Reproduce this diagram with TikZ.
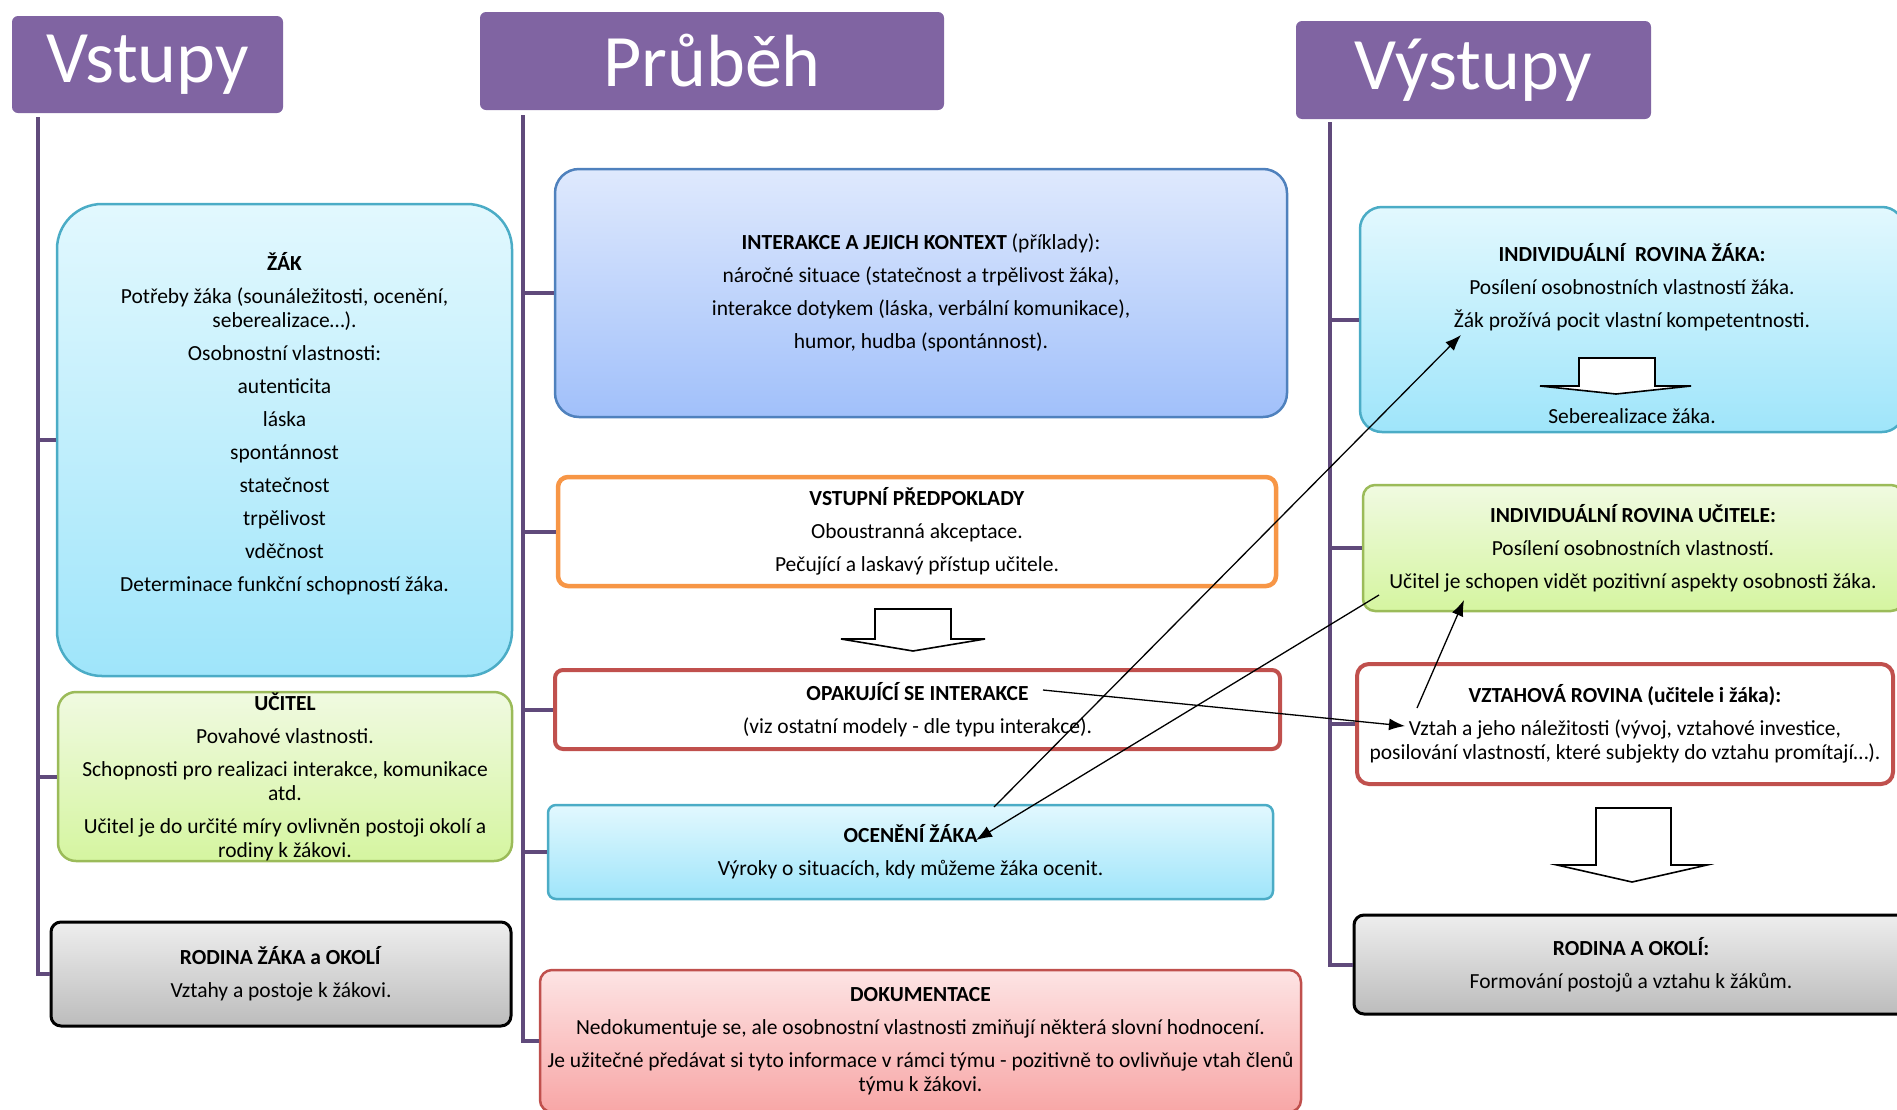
\documentclass[tikz,border=0pt]{standalone}
\usepackage{fontspec}
\setmainfont{Carlito}
\usetikzlibrary{arrows.meta}

\definecolor{hdpurple}{HTML}{8064A2}
\definecolor{trunkpurple}{HTML}{604A7B}
\definecolor{cyanline}{HTML}{4BACC6}
\definecolor{cyantop}{HTML}{E2F8FE}
\definecolor{cyanbot}{HTML}{9FE5FA}
\definecolor{greenline}{HTML}{9BBB59}
\definecolor{greentop}{HTML}{F0FAE1}
\definecolor{greenbot}{HTML}{D5F5A0}
\definecolor{blueline}{HTML}{4F81BD}
\definecolor{bluetop}{HTML}{DFE9FD}
\definecolor{bluebot}{HTML}{A1C0FA}
\definecolor{graytop}{HTML}{EEEEEE}
\definecolor{graybot}{HTML}{BCBCBC}
\definecolor{pinkline}{HTML}{C0504D}
\definecolor{pinktop}{HTML}{FDE4E4}
\definecolor{pinkbot}{HTML}{F8A6A6}
\definecolor{orangeline}{HTML}{F79646}
\definecolor{redline}{HTML}{C0504D}

\tikzset{
  titlebox/.style={fill=hdpurple, rounded corners=6pt, text=white, inner sep=0pt,
    font=\fontsize{74}{74}\selectfont},
  trunk/.style={draw=trunkpurple, line width=4pt},
  txt/.style={align=center, inner sep=0pt, font=\fontsize{21.5}{24}\selectfont},
  card/.style={txt, draw, line width=2.5pt},
  cyanbox/.style={card, draw=cyanline, top color=cyantop, bottom color=cyanbot},
  greenbox/.style={card, draw=greenline, top color=greentop, bottom color=greenbot},
  bluebox/.style={card, draw=blueline, top color=bluetop, bottom color=bluebot},
  graybox/.style={card, draw=black, line width=3pt, top color=graytop, bottom color=graybot},
  pinkbox/.style={card, draw=pinkline, top color=pinktop, bottom color=pinkbot},
  orangebox/.style={card, draw=orangeline, line width=4.5pt, fill=white},
  redbox/.style={card, draw=redline, line width=4pt, fill=white},
  conn/.style={-{Latex[length=16pt,width=12pt]}, line width=1.3pt},
  blockarrow/.style={draw, fill=white, line width=1.6pt, line join=miter},
}

\begin{document}
\begin{tikzpicture}[x=1pt, y=-1pt]
\useasboundingbox (0,0) rectangle (1897,1109);

% column titles
\node[titlebox, minimum width=271pt, minimum height=97pt] (vstupy) at (147.5,64.5) {Vstupy};
\node[titlebox, minimum width=464pt, minimum height=98pt] (prubeh) at (712,61) {Průběh};
\node[titlebox, minimum width=355pt, minimum height=98pt] (vystupy) at (1473.5,70) {Výstupy};

% left column
\node[cyanbox, rounded corners=45pt, minimum width=455pt, minimum height=472pt] (zak) at (284.5,440) {};
\node[txt] (zak-t) at (284.5,424) {\textbf{ŽÁK}\\[9pt]
  Potřeby žáka (sounáležitosti, ocenění,\\ seberealizace…).\\[9pt]
  Osobnostní vlastnosti:\\[9pt]
  autenticita\\[9pt]
  láska\\[9pt]
  spontánnost\\[9pt]
  statečnost\\[9pt]
  trpělivost\\[9pt]
  vděčnost\\[9pt]
  Determinace funkční schopností žáka.};
\node[greenbox, rounded corners=18pt, minimum width=454pt, minimum height=169pt] (ucitel) at (285,776.5) {\textbf{UČITEL}\\[9pt]
  Povahové vlastnosti.\\[9pt]
  Schopnosti pro realizaci interakce, komunikace\\ atd.\\[9pt]
  Učitel je do určité míry ovlivněn postoji okolí a\\ rodiny k žákovi.};
\node[graybox, rounded corners=10pt, minimum width=460pt, minimum height=104pt] (rodinaz) at (281,974) {\textbf{RODINA ŽÁKA a OKOLÍ}\\[9pt]
  Vztahy a postoje k žákovi.};

% middle column
\node[bluebox, rounded corners=24pt, minimum width=732pt, minimum height=248pt] (interakce) at (921,293) {\textbf{INTERAKCE A JEJICH KONTEXT} (příklady):\\[9pt]
  náročné situace (statečnost a trpělivost žáka),\\[9pt]
  interakce dotykem (láska, verbální komunikace),\\[9pt]
  humor, hudba (spontánnost).};
\node[orangebox, rounded corners=10pt, minimum width=718pt, minimum height=109pt] (vstupni) at (917,531.5) {\textbf{VSTUPNÍ PŘEDPOKLADY}\\[9pt]
  Oboustranná akceptace.\\[9pt]
  Pečující a laskavý přístup učitele.};
\node[redbox, rounded corners=8pt, minimum width=725pt, minimum height=79pt] (opak) at (917.5,709.5) {\textbf{OPAKUJÍCÍ SE INTERAKCE}\\[9pt]
  (viz ostatní modely - dle typu interakce).};
\node[cyanbox, rounded corners=8pt, minimum width=725pt, minimum height=94pt] (oceneni) at (910.5,852) {\textbf{OCENĚNÍ ŽÁKA}\\[9pt]
  Výroky o situacích, kdy můžeme žáka ocenit.};
\node[pinkbox, rounded corners=12pt, minimum width=761pt, minimum height=142pt] (dokum) at (920.5,1041) {\textbf{DOKUMENTACE}\\[9pt]
  Nedokumentuje se, ale osobnostní vlastnosti zmiňují některá slovní hodnocení.\\[9pt]
  Je užitečné předávat si tyto informace v rámci týmu - pozitivně to ovlivňuje vtah členů\\ týmu k žákovi.};
\draw[blockarrow] (875,609) -- (951,609) -- (951,639) -- (985,639) -- (913,651) -- (841,639) -- (875,639) -- cycle;

% right column
\node[cyanbox, rounded corners=22pt, minimum width=544pt, minimum height=225pt] (indzak) at (1632,319.5) {};
\node[txt] (indzak-t) at (1632,287) {\textbf{INDIVIDUÁLNÍ\ \ ROVINA ŽÁKA:}\\[9pt]
  Posílení osobnostních vlastností žáka.\\[9pt]
  Žák prožívá pocit vlastní kompetentnosti.};
\draw[blockarrow] (1579,358) -- (1655,358) -- (1655,386) -- (1691,386) -- (1616,394) -- (1540,386) -- (1579,386) -- cycle;
\node[txt] (sebereal) at (1632,416) {Seberealizace žáka.};
\node[greenbox, rounded corners=12pt, minimum width=540pt, minimum height=126pt] (induc) at (1633,548) {\textbf{INDIVIDUÁLNÍ ROVINA UČITELE:}\\[9pt]
  Posílení osobnostních vlastností.\\[9pt]
  Učitel je schopen vidět pozitivní aspekty osobnosti žáka.};
\node[redbox, rounded corners=12pt, minimum width=536pt, minimum height=120pt] (vztah) at (1625,724) {\textbf{VZTAHOVÁ ROVINA (učitele i žáka):}\\[9pt]
  Vztah a jeho náležitosti (vývoj, vztahové investice,\\ posilování vlastností, které subjekty do vztahu promítají…).};
\draw[blockarrow] (1596,808) -- (1671,808) -- (1671,865) -- (1707,865) -- (1632,882) -- (1557,865) -- (1596,865) -- cycle;
\node[graybox, rounded corners=10pt, minimum width=554pt, minimum height=99pt] (rodina) at (1631,964.5) {\textbf{RODINA A OKOLÍ:}\\[9pt]
  Formování postojů a vztahu k žákům.};

% trunks
\coordinate (ltop) at (37.5,117);
\coordinate (mtop) at (523,115);
\coordinate (rtop) at (1330,122);
\draw[trunk] (ltop) |- (rodinaz.west);
\draw[trunk] (ltop |- zak.west) -- (zak.west);
\draw[trunk] (ltop |- ucitel.west) -- (ucitel.west);
\draw[trunk] (mtop) |- (dokum.west);
\draw[trunk] (mtop |- interakce.west) -- (interakce.west);
\draw[trunk] (mtop |- vstupni.west) -- (vstupni.west);
\draw[trunk] (mtop |- opak.west) -- (opak.west);
\draw[trunk] (mtop |- oceneni.west) -- (oceneni.west);
\draw[trunk] (rtop) |- (rodina.west);
\draw[trunk] (rtop |- indzak.west) -- (indzak.west);
\draw[trunk] (rtop |- induc.west) -- (induc.west);
\draw[trunk] (rtop |- vztah.west) -- (vztah.west);

% cross links
\coordinate (ocen-out) at (994,807);
\coordinate (zak-in) at (1461,335);
\coordinate (uc-out) at (1379,595);
\coordinate (ocen-in) at (976,840);
\coordinate (opak-out) at (1043,690);
\coordinate (vztah-in) at (1405,726);
\coordinate (vztah-out) at (1417,708);
\coordinate (uc-in) at (1464,600);
\draw[conn] (ocen-out) -- (zak-in);
\draw[conn] (uc-out) -- (ocen-in);
\draw[conn] (opak-out) -- (vztah-in);
\draw[conn] (vztah-out) -- (uc-in);

\end{tikzpicture}
\end{document}
